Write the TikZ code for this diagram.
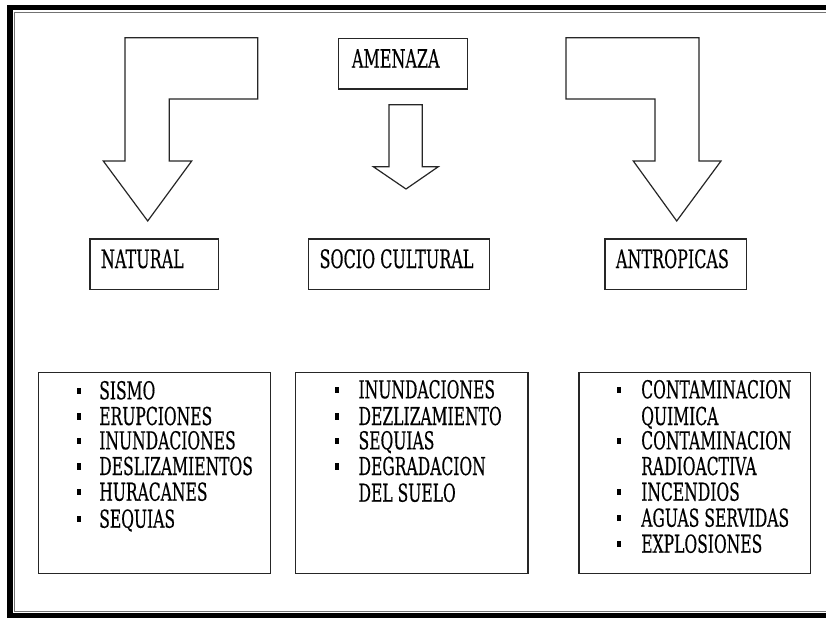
\documentclass[tikz,border=0pt]{standalone}
\usepackage{fontspec}
\setmainfont{DejaVu Serif}[FakeStretch=0.63, FakeBold=0.4]
\begin{document}
\begin{tikzpicture}[x=0.75pt, y=-0.75pt, line join=miter,
  blockarrow/.style={draw=black!85, line width=0.9pt, fill=white},
  box/.style={draw=black!85, line width=0.9pt},
  head/.style={anchor=base west, inner sep=0pt, font=\fontsize{19}{22}\selectfont},
  item/.style={anchor=base west, inner sep=0pt, font=\fontsize{18.5}{22}\selectfont},
  dot/.style={fill=black, draw=none, rectangle, inner sep=0pt, minimum width=3.2pt, minimum height=4.9pt}]
\useasboundingbox (0,0) rectangle (826,618);
\clip (0,0) rectangle (826,618);

% page frame: heavy outer rule with a thin inner rule
\draw[line width=4pt] (900,7.5) -- (10,7.5) -- (10,616) -- (900,616);
\draw[line width=1pt, black!55] (900,12.7) -- (14.3,12.7) -- (14.3,611.8) -- (900,611.8);

% top box
\draw[box] (338.7,38.3) rectangle (467.7,89);
\node[head] (amenaza) at (351.7,67.7) {AMENAZA};

% bent block arrows and straight block arrow
\draw[blockarrow] (125,37.7) -- (257.7,37.7) -- (257.7,99) -- (169.3,99) -- (169.3,161)
  -- (191.7,161) -- (147.7,221) -- (103.3,161) -- (125,161) -- cycle;
\draw[blockarrow] (389,104.7) -- (422.3,104.7) -- (422.3,166.7) -- (438.3,166.7)
  -- (406,189) -- (373.3,166.7) -- (389,166.7) -- cycle;
\draw[blockarrow] (566,37.7) -- (699,37.7) -- (699,161) -- (721,161) -- (676.7,221)
  -- (633.3,161) -- (655,161) -- (655,99) -- (566,99) -- cycle;

% category boxes
\draw[box] (90,239) rectangle (218.7,289.3);
\node[head] (natural) at (100.7,268) {NATURAL};
\draw[box] (308.7,239) rectangle (489.3,289.3);
\node[head] (socio) at (319.3,268) {SOCIO CULTURAL};
\draw[box] (605,239) rectangle (746.7,289.3);
\node[head] (antropicas) at (615.7,268) {ANTROPICAS};

% lists
\draw[box] (38.3,372.7) rectangle (270.3,573.3);
\foreach \t/\y [count=\i] in {SISMO/399.3, ERUPCIONES/425, INUNDACIONES/449.3,
    DESLIZAMIENTOS/475, HURACANES/500.7, SEQUIAS/527.7} {
  \node[dot] (na\i) at (79.3,\y-8.5) {};
  \node[item] (nt\i) at (99,\y) {\t};
}

\draw[box] (295.7,372.7) rectangle (528,573.3);
\foreach \t/\y [count=\i] in {INUNDACIONES/398.3, DEZLIZAMIENTO/425, SEQUIAS/449.3,
    DEGRADACION/475} {
  \node[dot] (sa\i) at (336.7,\y-8.5) {};
  \node[item] (st\i) at (358.3,\y) {\t};
}
\node[item] (st5) at (358.3,501.7) {DEL SUELO};

\draw[box] (579,372.7) rectangle (810.7,573.3);
\foreach \y [count=\i] in {398.3, 449.3, 500.7, 526.7, 552.7} {
  \node[dot] (aa\i) at (619.3,\y-8.5) {};
}
\node[item] (at1) at (641,398.3) {CONTAMINACION};
\node[item] (at2) at (641,425) {QUIMICA};
\node[item] (at3) at (641,449.3) {CONTAMINACION};
\node[item] (at4) at (641,475) {RADIOACTIVA};
\node[item] (at5) at (641,500.7) {INCENDIOS};
\node[item] (at6) at (641,526.7) {AGUAS SERVIDAS};
\node[item] (at7) at (641,552.7) {EXPLOSIONES};
\end{tikzpicture}
\end{document}
